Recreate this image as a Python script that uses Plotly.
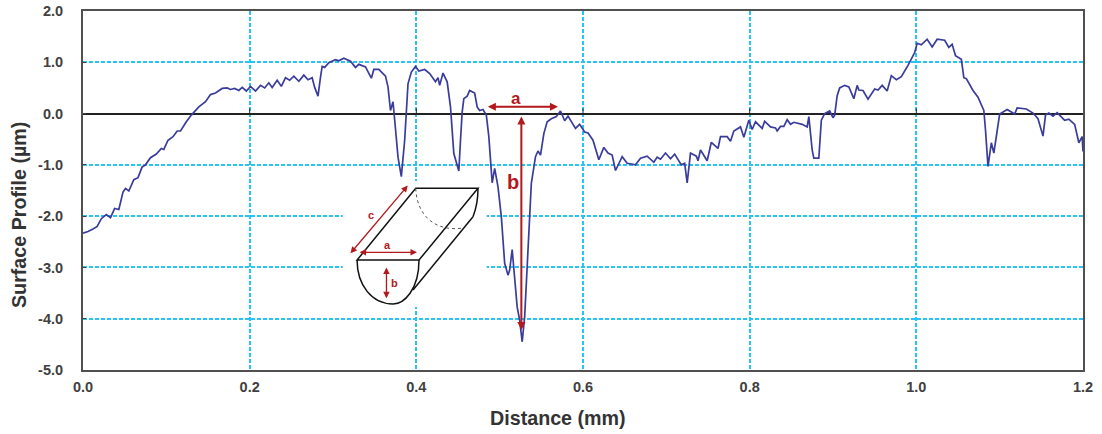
import plotly.graph_objects as go

distance = [0,.006,.012,.017,.022,.028,.033,.038,.043,.048,.051,.055,.061,.066,.071,.075,.081,.088,.094,.097,.102,.108,.113,.117,.124,.130,.139,.147,.153,.159,.167,.173,.177,.182,.187,.191,.196,.201,.207,.213,.218,.223,.227,.233,.238,.243,.248,.253,.259,.265,.27,.275,.278,.282,.285,.287,.29,.295,.303,.307,.313,.321,.327,.331,.339,.346,.349,.355,.363,.366,.369,.372,.375,.378,.382,.386,.39,.394,
.399,.403,.41,.416,.423,.426,.428,.432,.437,.441,.445,.448,.451,.453,.455,.457,.461,.464,.47,.473,.476,.48,.484,.487,.491,.494,.498,.502,.506,.51,.512,.515,.517,.521,.524,.527,.53,.534,.538,.543,.546,.549,.553,.557,.562,.568,.573,.578,.582,.591,.596,.602,.606,.612,
.619,.625,.63,.635,.639,.647,.653,.663,.669,.677,.685,.689,.693,.699,.705,.71,.718,.722,.725,.729,.736,.738,.741,.749,.754,.762,.765,.773,.777,.781,.789,.793,.799,.803,.807,.815,.818,.825,.831,.833,.837,.841,.845,.849,.853,.863,.869,.871,.875,.877,.883,.886,
.89,.896,.9,.902,.905,.908,.914,.919,.925,.929,.931,.936,.942,.95,.954,.959,.965,.97,.976,.982,.99,.998,1.001,1.006,1.013,1.019,1.025,1.034,1.039,1.043,1.047,1.054,1.057,1.06,1.068,1.074,1.081,1.083,1.086,1.09,1.093,1.1,1.109,1.118,1.121,1.132,1.14,1.146,1.149,1.152,1.155,1.159,1.164,1.169,1.178,1.183,1.19,1.195,1.199,1.2]

profile = [-2.33,-2.3,-2.25,-2.2,-2.05,-1.97,-2.03,-1.85,-1.87,-1.53,-1.46,-1.51,-1.29,-1.25,-1.04,-1.0,-.86,-.79,-.68,-.7,-.52,-.45,-.34,-.34,-.16,-.03,.13,.23,.37,.40,.49,.5,.47,.49,.45,.51,.44,.53,.44,.55,.5,.6,.51,.65,.53,.7,.65,.73,.63,.75,.66,.7,.51,.34,.71,.92,.9,.99,1.05,1.03,1.08,1.02,.9,.96,.91,.69,.86,.86,.73,.52,.06,.23,-.3,-.85,-1.23,-.52,.58,.81,
.92,.83,.86,.78,.62,.7,.55,.79,.62,.13,-.78,-.94,-1.12,-.52,.03,.29,.34,.45,.4,.13,.06,.08,-.03,-.45,-1.35,-1.07,-1.43,-2.01,-2.92,-3.15,-3.05,-2.65,-2.99,-3.77,-4.03,-4.45,-3.96,-2.73,-1.36,-.84,-.73,-.81,-.39,-.16,-.1,-.06,.05,-.14,-.05,-.29,-.21,-.36,-.38,-.52,
-.90,-.66,-.77,-.81,-1.11,-.84,-.97,-1.0,-.87,-.83,-.95,-.85,-.89,-.77,-.88,-.79,-1.0,-.97,-1.35,-.77,-.83,-.92,-.71,-.92,-.56,-.68,-.45,-.45,-.54,-.34,-.26,-.46,-.13,-.31,-.16,-.29,-.15,-.26,-.28,-.34,-.25,-.25,-.12,-.21,-.17,-.21,-.26,-.06,-.71,-.87,-.87,-.13,
0,.05,-.08,-.03,.35,.5,.55,.52,.29,.55,.46,.45,.28,.48,.46,.55,.44,.74,.66,.72,.94,1.19,1.37,1.34,1.45,1.3,1.45,1.43,1.29,1.35,1.13,1.06,.7,.68,.45,.32,.06,-.32,-1.03,-.57,-.77,-.01,.08,-.01,.11,.09,.01,-.1,-.26,-.44,-.03,.01,-.05,.02,-.13,-.11,-.21,-.57,-.45,-.74]

x_ticks = [0, .2, .4, .6, .8, 1.0, 1.2]
y_ticks = [-5, -4, -3, -2, -1, 0, 1, 2]
y_tick_labels = ["-5.0", "-4.0", "-3.0", "-2.0", "-1.0", "0.0", "1.0", "2.0"]
x_title = "Distance (mm)"
y_title = "Surface Profile (µm)"

FONT = "Liberation Sans, Arial, sans-serif"
RED = "#b3191c"
INK = "#404040"
W, H = 1102, 434
ML, MR, MT, MB = 83, 18.5, 11, 64

# The inset sketch is annotation art, positioned in window pixels and mapped onto the axes.
def fx(p): return (p - 83) / 834
def fy(p): return (113.5 - p) / 51.3
def P(p, q): return f"{fx(p):.4f} {fy(q):.4f}"

fig = go.Figure(go.Scatter(x=distance, y=profile, mode="lines",
                           line=dict(color="#3a3c9c", width=1.7), hoverinfo="skip"))

shapes = [dict(type="rect", xref="x", yref="y", layer="between", line_width=0, fillcolor="white",
               x0=fx(343), x1=fx(487), y0=fy(181), y1=fy(307))]
for t in x_ticks[1:-1]:
    shapes.append(dict(type="line", xref="x", yref="y", x0=t, x1=t, y0=0, y1=.1,
                       line=dict(color="#222222", width=1)))
def seg(path, dash="solid", w=1.5, color="#111111"):
    shapes.append(dict(type="path", xref="x", yref="y", path=path, line=dict(color=color, width=w, dash=dash)))
seg(f"M {P(357.3,260)} L {P(419.3,260)} L {P(478.3,188.3)} L {P(416,188.3)} Z")
seg(f"M {P(357.3,260)} C {P(357.3,285)} {P(372,304)} {P(393.3,304)} C {P(404,304)} {P(419.3,290)} {P(419.3,260)}")
seg(f"M {P(413.3,290)} L {P(473.3,216.7)}")
seg(f"M {P(478.3,188.3)} C {P(478.3,200)} {P(476,210)} {P(473.3,216.7)}")
seg(f"M {P(416,188.3)} C {P(417,215)} {P(435,232)} {P(463,228)}", dash="dot", w=1, color="#555555")

def arrow(x0, y0, x1, y1, w):
    return dict(x=fx(x1), y=fy(y1), ax=fx(x0), ay=fy(y0), xref="x", yref="y", axref="x", ayref="y",
                text="", showarrow=True, arrowside="end+start", arrowhead=2, arrowsize=0.8 if w > 1.5 else 1,
                arrowwidth=w, arrowcolor=RED, standoff=0, startstandoff=0)
def label(s, p, q, size):
    return dict(x=fx(p), y=fy(q), xref="x", yref="y", text=f"<b>{s}</b>", showarrow=False,
                xanchor="center", yanchor="middle", font=dict(family=FONT, size=size, color=RED))
def page_text(s, p, q, size, angle=0):
    return dict(x=(p - ML) / (W - ML - MR), y=(H - MB - q) / (H - MT - MB), xref="paper", yref="paper",
                text=f"<b>{s}</b>", showarrow=False, textangle=angle, xanchor="center", yanchor="middle",
                font=dict(family=FONT, size=size, color="#333333"))
annotations = [
    arrow(486.7, 106.7, 558.3, 106.7, 2.0), arrow(521.7, 115, 521.7, 330, 2.0),
    arrow(409.3, 184, 350.7, 253.3, 1.3), arrow(358.3, 252.3, 417.3, 252.3, 1.3),
    arrow(386.7, 266, 386.7, 298.3, 1.3),
    label("a", 516, 98, 17), label("b", 513, 182, 20),
    label("c", 371.7, 215, 11), label("a", 388, 245, 11), label("b", 394.3, 283, 11),
    # Axis titles sit off-centre in the reference, so they are placed as page-anchored text.
    page_text(x_title, 558, 418, 19.7),
    page_text(y_title, 19, 215, 19.7, angle=-90),
]

axis = dict(showline=True, mirror=True, linecolor="#505050", linewidth=2, automargin=False,
            gridcolor="#27c4f5", griddash="4px,2px", gridwidth=1.5, showgrid=True,
            tickfont=dict(family=FONT, size=14.5, color=INK, weight=700))
fig.update_layout(
    width=W, height=H, margin=dict(l=ML, r=MR, t=MT, b=MB), showlegend=False,
    paper_bgcolor="white", plot_bgcolor="white", shapes=shapes, annotations=annotations,
    xaxis=dict(axis, range=[0, 1.2], tickvals=x_ticks, tickformat=".1f", ticks="", zeroline=False,
               ticklabelstandoff=3),
    yaxis=dict(axis, range=[-5, 2], tickvals=y_ticks, ticktext=y_tick_labels, ticks="inside", ticklen=3,
               tickcolor=INK, ticklabelstandoff=15,
               zeroline=True, zerolinecolor="#222222", zerolinewidth=1.5),
)
fig.write_html("out.html", config={"displayModeBar": False},
               post_script="document.body.style.margin='0';")
